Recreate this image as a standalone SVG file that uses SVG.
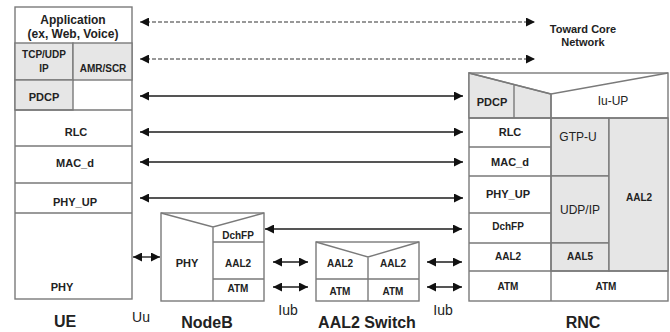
<svg xmlns="http://www.w3.org/2000/svg" width="670" height="332" viewBox="0 0 670 332">
<style>
.b{fill:#fff;stroke:#7a7a7a;stroke-width:1.4}
.g{fill:#e6e6e6;stroke:#7a7a7a;stroke-width:1.4}
.l{fill:none;stroke:#7a7a7a;stroke-width:1.4}
text{font-family:"Liberation Sans",Arial,sans-serif;fill:#222;text-anchor:middle}
.t{font-size:11px;font-weight:bold}
.s{font-size:10px;font-weight:bold}
.n{font-size:12px}
.big{font-size:16px;font-weight:bold}
.lab{font-size:14px}
.a{fill:none;stroke:#555;stroke-width:1.8;marker-start:url(#ah);marker-end:url(#ah)}
.d{fill:none;stroke:#777;stroke-width:1.6;stroke-dasharray:4 2;marker-start:url(#ah);marker-end:url(#ah)}
</style>
<defs>
<marker id="ah" viewBox="0 0 10 10" refX="10" refY="5" markerWidth="9" markerHeight="9" markerUnits="userSpaceOnUse" orient="auto-start-reverse">
<path d="M0,0L10,5L0,10z" fill="#111"/>
</marker>
</defs>
<g id="UE">
<rect class="b" x="15" y="7" width="117" height="292"/>
<rect class="g" x="15" y="43" width="58" height="37"/>
<rect class="g" x="73" y="43" width="59" height="37"/>
<rect class="g" x="15" y="80" width="58" height="30"/>
<path class="l" d="M15,110H132M15,146H132M15,183H132M15,213H132"/>
<text class="n" style="font-weight:bold" x="73" y="24">Application</text>
<text class="n" style="font-weight:bold" x="73" y="38">(ex, Web, Voice)</text>
<text class="s" x="44" y="58">TCP/UDP</text>
<text class="s" x="44" y="72">IP</text>
<text class="s" x="103" y="72">AMR/SCR</text>
<text class="t" x="44" y="101">PDCP</text>
<text class="t" x="76" y="136">RLC</text>
<text class="t" x="75" y="167">MAC_d</text>
<text class="t" x="75" y="206">PHY_UP</text>
<text class="t" x="62" y="291">PHY</text>
<text class="big" x="65" y="327">UE</text>
</g>
<g id="NodeB">
<rect class="b" x="161" y="213" width="103" height="88"/>
<path class="l" d="M161,213L213,227L264,213M213,227V301M213,242H264M213,279H264"/>
<text class="t" x="187" y="267">PHY</text>
<text class="s" x="238" y="239">DchFP</text>
<text class="s" x="238" y="267">AAL2</text>
<text class="s" x="238" y="292">ATM</text>
<text class="big" x="207" y="328">NodeB</text>
</g>
<g id="AAL2Switch">
<rect class="b" x="316" y="242" width="103" height="59"/>
<path class="l" d="M316,242L368,257L419,242M368,257V301M316,279H419"/>
<text class="s" x="340" y="267">AAL2</text>
<text class="s" x="393" y="267">AAL2</text>
<text class="s" x="340" y="295">ATM</text>
<text class="s" x="393" y="295">ATM</text>
<text class="big" x="367" y="328">AAL2 Switch</text>
</g>
<g id="RNC">
<rect class="b" x="469" y="73" width="199" height="228"/>
<polygon class="g" points="469,73 551,94 551,118 469,118"/>
<rect class="g" x="551" y="118" width="58" height="58"/>
<rect class="g" x="551" y="176" width="58" height="67"/>
<rect class="g" x="551" y="243" width="58" height="28"/>
<rect class="g" x="609" y="118" width="59" height="153"/>
<path class="l" d="M469,73L551,94L668,73M514,84V118M551,94V301M469,118H668M469,147H551M469,176H551M469,213H551M469,243H551M469,271H668"/>
<text class="t" x="492" y="106">PDCP</text>
<text class="n" x="613" y="105">Iu-UP</text>
<text class="t" x="510" y="136">RLC</text>
<text class="t" x="510" y="166">MAC_d</text>
<text class="n" x="578" y="141">GTP-U</text>
<text class="t" x="508" y="198">PHY_UP</text>
<text class="n" x="580" y="214">UDP/IP</text>
<text class="s" x="639" y="201">AAL2</text>
<text class="s" x="508" y="230">DchFP</text>
<text class="s" x="508" y="260">AAL2</text>
<text class="s" x="580" y="260">AAL5</text>
<text class="s" x="508" y="290">ATM</text>
<text class="s" x="606" y="290">ATM</text>
<text class="big" x="583" y="328">RNC</text>
</g>
<g id="connectors">
<line class="d" x1="140" y1="22" x2="535" y2="22"/>
<line class="d" x1="140" y1="59" x2="535" y2="59"/>
<line class="a" x1="140" y1="96" x2="463" y2="96"/>
<line class="a" x1="140" y1="132" x2="463" y2="132"/>
<line class="a" x1="140" y1="162" x2="463" y2="162"/>
<line class="a" x1="140" y1="198" x2="463" y2="198"/>
<line class="a" x1="265" y1="229" x2="462" y2="229"/>
<line class="a" x1="133" y1="257" x2="160" y2="257"/>
<line class="a" x1="273" y1="262" x2="308" y2="262"/>
<line class="a" x1="273" y1="287" x2="308" y2="287"/>
<line class="a" x1="427" y1="262" x2="462" y2="262"/>
<line class="a" x1="427" y1="287" x2="462" y2="287"/>
</g>
<g id="labels">
<text class="t" x="583" y="33">Toward Core</text>
<text class="t" x="583" y="46">Network</text>
<text class="lab" x="141" y="322">Uu</text>
<text class="lab" x="288" y="315">Iub</text>
<text class="lab" x="443" y="315">Iub</text>
</g>
</svg>
